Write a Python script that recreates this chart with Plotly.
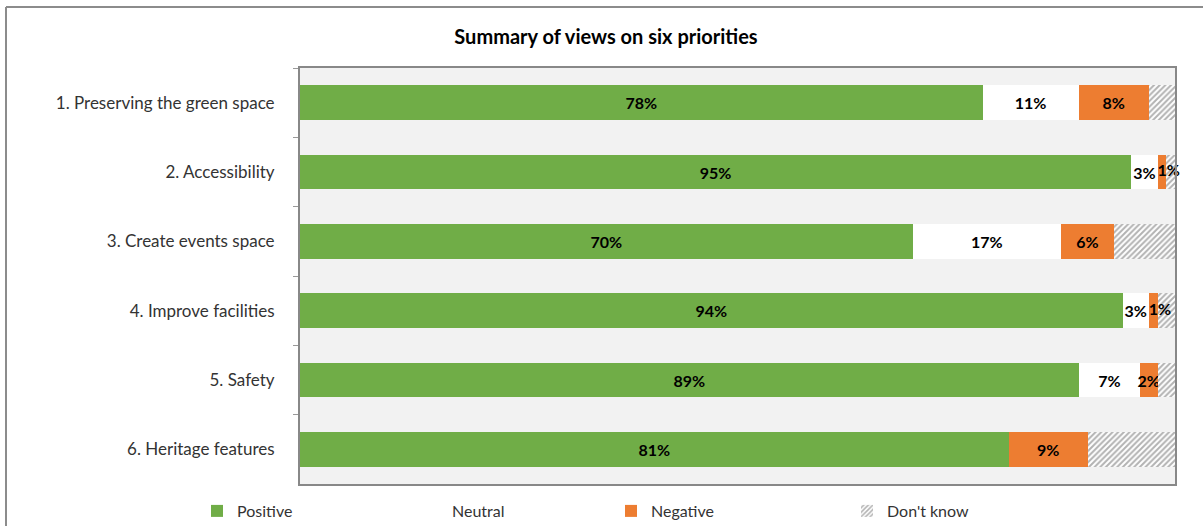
import plotly.graph_objects as go

categories = ["1. Preserving the green space", "2. Accessibility", "3. Create events space",
              "4. Improve facilities", "5. Safety", "6. Heritage features"]
positive = [78, 95, 70, 94, 89, 81]
neutral = [11, 3, 17, 3, 7, 0]
negative = [8, 1, 6, 1, 2, 9]
dont_know = [3, 1, 7, 2, 2, 10]
title_text = "Summary of views on six priorities"

FONT = "Lato, 'Open Sans', sans-serif"
TXT = "#333333"
LABEL_FONT = dict(family=FONT, size=16, color="black", weight="bold")

def labels(vals):
    return [f"{v}%" if v > 0 else "" for v in vals]

W, H = 1203, 526
L, R, T, B = 300, 28, 68, 42
pw, ph = W - L - R, H - T - B

def px_x(x):
    return (x - L) / pw

def px_y(y):
    return (H - B - y) / ph

# very thin negative segments get their label placed from the segment start
tiny_neg = [v < 2 for v in negative]
neg_textpos = ["none" if t else "inside" for t in tiny_neg]

fig = go.Figure()
series = [
    ("Positive", positive, dict(color="#70AD47"), "inside", "legend", 197),
    ("Neutral", neutral, dict(color="#FFFFFF"), "inside", "legend2", 412),
    ("Negative", negative, dict(color="#ED7D31"), neg_textpos, "legend3", 611),
    ("Don't know", dont_know, dict(color="#FFFFFF",
                                   pattern=dict(shape="/", fgcolor="#666666", bgcolor="#FFFFFF",
                                                size=4, solidity=0.5)), "none", "legend4", 847),
]
legends = {}
for name, vals, marker, tpos, leg, lx in series:
    fig.add_trace(go.Bar(
        y=categories, x=vals, name=name, orientation="h",
        marker=dict(line=dict(width=0), **marker),
        text=labels(vals) if tpos != "none" else None,
        textposition=tpos,
        insidetextanchor="middle", textangle=0,
        textfont=LABEL_FONT, insidetextfont=LABEL_FONT,
        hoverinfo="skip", legend=leg,
    ))
    legends[leg] = dict(orientation="h", x=px_x(lx), xanchor="left", y=px_y(511),
                        yanchor="middle", font=dict(family=FONT, size=16, color=TXT),
                        bgcolor="rgba(0,0,0,0)")

tiny_y = [c for c, t in zip(categories, tiny_neg) if t]
tiny_x = [p + n for p, n, t in zip(positive, neutral, tiny_neg) if t]
tiny_text = [f"{v}%" for v, t in zip(negative, tiny_neg) if t]
fig.add_trace(go.Scatter(
    y=tiny_y, x=tiny_x, text=tiny_text, mode="text", textposition="middle right",
    textfont=LABEL_FONT, showlegend=False, hoverinfo="skip", cliponaxis=False,
))

fig.update_layout(
    width=W, height=H,
    margin=dict(l=L, r=R, t=T, b=B, autoexpand=False),
    barmode="stack", bargap=0.5,
    paper_bgcolor="white", plot_bgcolor="#F2F2F2",
    title=dict(text=f"<b>{title_text}</b>", x=606 / W, xanchor="center",
               y=1 - 37 / H, yanchor="middle", yref="container",
               font=dict(family=FONT, size=20, color="black")),
    font=dict(family=FONT, size=16, color=TXT),
    uniformtext=dict(mode="show", minsize=16),
    showlegend=True,
    xaxis=dict(range=[0, 100], showgrid=False, showticklabels=False, zeroline=False,
               showline=True, linecolor="#888888", linewidth=2, mirror=True, ticks=""),
    yaxis=dict(autorange="reversed", showgrid=False, showline=True, linecolor="#888888",
               linewidth=2, mirror=True, ticks="outside", ticklen=5, tickcolor="#999999",
               tickwidth=1, tickson="boundaries", ticklabelstandoff=20,
               tickfont=dict(family=FONT, size=17, color=TXT)),
    shapes=[
        dict(type="line", xref="paper", yref="paper", x0=px_x(6), x1=px_x(1210),
             y0=px_y(7), y1=px_y(7), line=dict(color="#8C8C8C", width=2)),
        dict(type="line", xref="paper", yref="paper", x0=px_x(6), x1=px_x(6),
             y0=px_y(7), y1=px_y(535), line=dict(color="#8C8C8C", width=2)),
    ],
    **legends,
)

fig.write_html("out.html")
